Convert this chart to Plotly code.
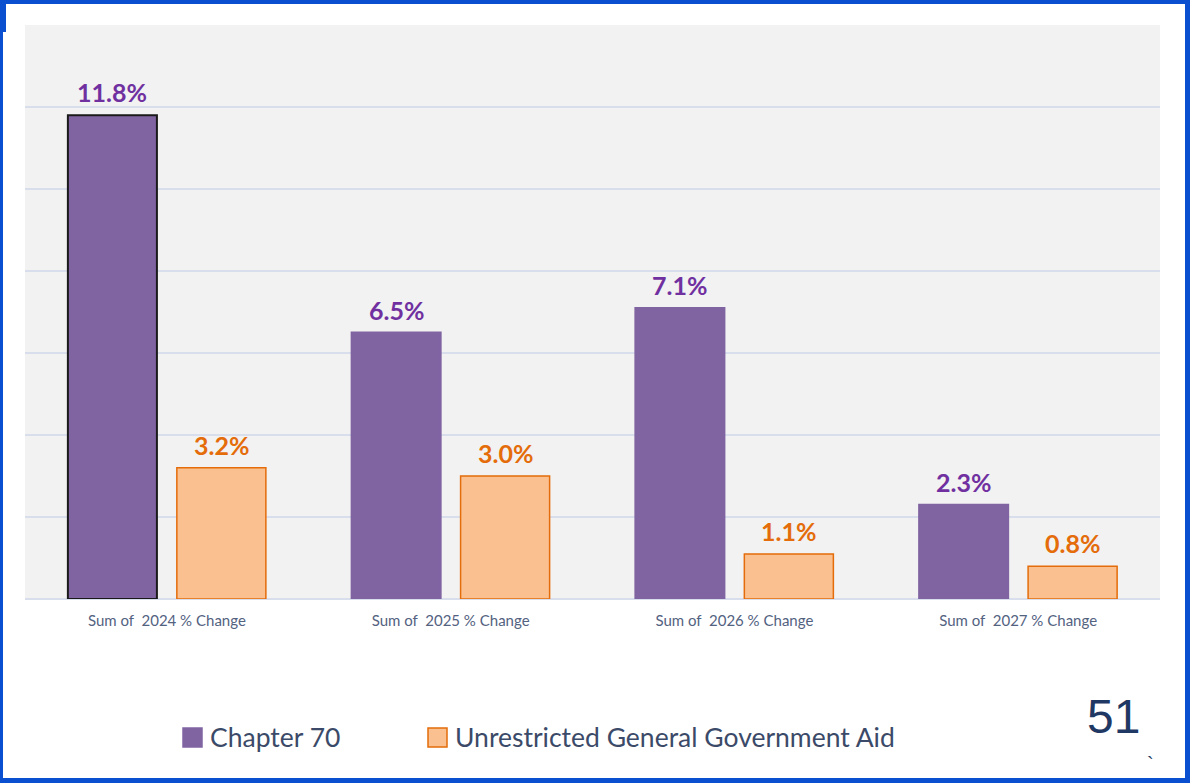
import plotly.graph_objects as go

# ---- data ----
categories = ["Sum of  2024 % Change", "Sum of  2025 % Change",
              "Sum of  2026 % Change", "Sum of  2027 % Change"]
chapter70 = [11.8, 6.5, 7.1, 2.3]
ugga = [3.2, 3.0, 1.1, 0.8]
series_names = ["Chapter 70", "Unrestricted General Government Aid"]
page_number = "51"

# ---- styling ----
W, H = 1190, 783
ML, MR, MT, MB = 25, 30, 25, 184
PURPLE = "#8064a2"
PURPLE_TXT = "#7030a0"
ORANGE = "#fac090"
ORANGE_LINE = "#e46c0a"
BLUE = "#0b4fd1"
LABEL_FONT = "Lato"

pw, ph = W - ML - MR, H - MT - MB


def px_x(px):
    return (px - ML) / pw


def px_y(py):
    return (H - MB - py) / ph


fig = go.Figure()
fig.add_trace(go.Bar(
    x=categories, y=chapter70, name=series_names[0],
    marker=dict(color=PURPLE,
                line=dict(color=["#1a1a1a", PURPLE, PURPLE, PURPLE], width=2)),
    showlegend=False,
))
fig.add_trace(go.Bar(
    x=categories, y=ugga, name=series_names[1],
    marker=dict(color=ORANGE, line=dict(color=ORANGE_LINE, width=1.5)),
    showlegend=False,
))

annotations = []
# value labels above each bar
for vals, shift, col in ((chapter70, -54.5, PURPLE_TXT), (ugga, 54.5, ORANGE_LINE)):
    for c, v in zip(categories, vals):
        annotations.append(dict(
            x=c, y=v, xref="x", yref="y", text=f"{v:.1f}%", showarrow=False,
            xshift=shift, yanchor="bottom", yshift=6,
            font=dict(family=LABEL_FONT, size=25, color=col, weight="bold"),
        ))

# legend drawn as swatches + labels
shapes = []
legend_items = [
    (183, 202, 208, series_names[0], PURPLE, PURPLE),
    (428, 447, 453, series_names[1], ORANGE, ORANGE_LINE),
]
for x0, x1, tx, label, fill, line in legend_items:
    shapes.append(dict(type="rect", xref="paper", yref="paper",
                       x0=px_x(x0), x1=px_x(x1), y0=px_y(747), y1=px_y(728),
                       fillcolor=fill, line=dict(color=line, width=1.5)))
    annotations.append(dict(
        x=px_x(tx), y=px_y(737), xref="paper", yref="paper", text=label,
        showarrow=False, xanchor="left", yanchor="middle",
        font=dict(family=LABEL_FONT, size=26.5, color="#3b4a68"),
    ))

# page number
annotations.append(dict(
    x=px_x(1113), y=px_y(716), xref="paper", yref="paper", text=page_number,
    showarrow=False, xanchor="center", yanchor="middle",
    font=dict(family="Liberation Sans", size=48, color="#1f3864"),
))
annotations.append(dict(
    x=px_x(1150), y=px_y(764), xref="paper", yref="paper", text="`",
    showarrow=False, xanchor="center", yanchor="middle",
    font=dict(family="Liberation Sans", size=20, color="#1f3864"),
))

# slide frame
for x0, x1, y0, y1 in ((0, W, 0, 4), (0, W, H - 5, H), (0, 3, 0, H), (W - 5, W, 0, H), (0, 6, 0, 32)):
    shapes.append(dict(type="rect", xref="paper", yref="paper",
                       x0=px_x(x0), x1=px_x(x1), y0=px_y(y1), y1=px_y(y0),
                       fillcolor=BLUE, line=dict(width=0), layer="above"))

fig.update_layout(
    width=W, height=H,
    margin=dict(l=ML, r=MR, t=MT, b=MB),
    paper_bgcolor="white",
    plot_bgcolor="#f2f2f2",
    barmode="group",
    bargap=0.232,
    bargroupgap=0.183,
    annotations=annotations,
    shapes=shapes,
    xaxis=dict(
        showgrid=False, showline=False, ticks="",
        tickfont=dict(family=LABEL_FONT, size=15, color="#53627f"),
        ticklabelstandoff=11,
    ),
    yaxis=dict(
        range=[0, 14], dtick=2, showticklabels=False, ticks="",
        showgrid=True, gridcolor="#d9deec", gridwidth=1.5,
        zeroline=True, zerolinecolor="#d9deec", zerolinewidth=1.5,
    ),
)

fig.write_html("out.html")
